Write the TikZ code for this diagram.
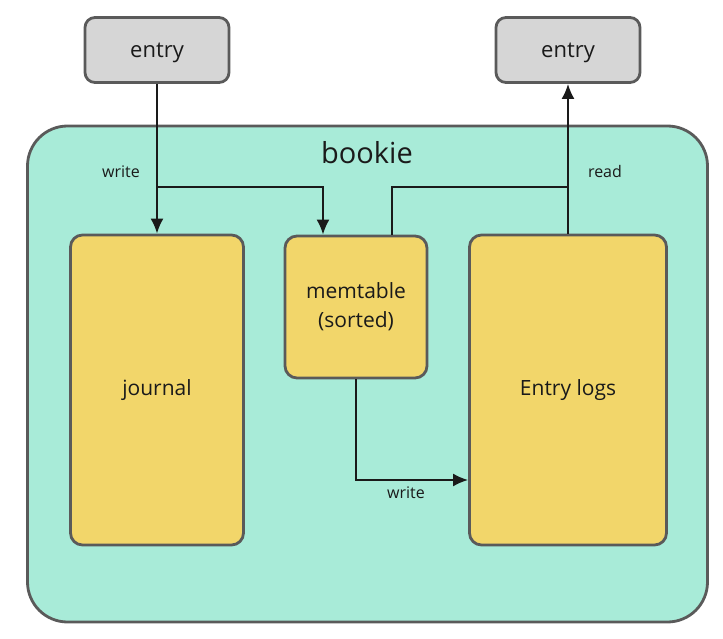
\documentclass[tikz,border=0pt]{standalone}
\usepackage{fontspec}
\setmainfont{Open Sans}
\usetikzlibrary{arrows.meta,calc}
\definecolor{mint}{HTML}{A8EBD8}
\definecolor{sun}{HTML}{F2D66A}
\definecolor{pale}{HTML}{D6D6D6}
\definecolor{edge}{HTML}{5A5A5A}
\definecolor{ink}{HTML}{1A1A1A}
\tikzset{
  box/.style={draw=edge, line width=2.8pt, inner sep=0pt, align=center, text=ink},
  entrybox/.style={box, fill=pale, rounded corners=10pt, minimum width=144pt, minimum height=65pt, font=\fontsize{22}{26}\selectfont},
  store/.style={box, fill=sun, rounded corners=12pt, font=\fontsize{21}{28}\selectfont},
  conn/.style={draw=ink, line width=2pt, -{Latex[length=15pt,width=13pt]}},
  plain/.style={draw=ink, line width=2pt},
  lbl/.style={text=ink, font=\fontsize{16}{19}\selectfont}
}
\begin{document}
\begin{tikzpicture}[x=1pt,y=-1pt]
\useasboundingbox (0,0) rectangle (723,639);
\node[box, fill=mint, rounded corners=40pt, minimum width=680pt, minimum height=496pt] (bookie) at (367.5,374) {};
\node[text=ink, font=\fontsize{29}{33}\selectfont] (title) at (367,153) {bookie};
\node[entrybox, text depth=0pt, text height=15pt] (in) at (157,50) {entry};
\node[entrybox, text depth=0pt, text height=15pt] (out) at (568,50) {entry};
\node[store, minimum width=173pt, minimum height=310pt] (journal) at (157,390) {journal};
\node[store, minimum width=142pt, minimum height=142pt] (mem) at (356,307) {\raisebox{-4pt}{\begin{tabular}{@{}c@{}}memtable\\[1pt](sorted)\end{tabular}}};
\node[store, minimum width=197pt, minimum height=310pt] (logs) at (568,390) {Entry logs};
\coordinate (split) at (157,187);
\coordinate (join) at (568,187);
\coordinate (memin) at ($(mem.north)+(-33,0)$);
\coordinate (memout) at ($(mem.north)+(36,0)$);
\draw[conn] (in.south) -- (journal.north);
\draw[conn] (split) -| (memin);
\draw[conn] (logs.north) -- (out.south);
\draw[plain] (memout) |- (join);
\draw[conn] (mem.south) |- (logs.west |- 0,480);
\node[lbl] (w1) at (121,172) {write};
\node[lbl] (r1) at (605,172) {read};
\node[lbl] (w2) at (406,493) {write};
\end{tikzpicture}
\end{document}
